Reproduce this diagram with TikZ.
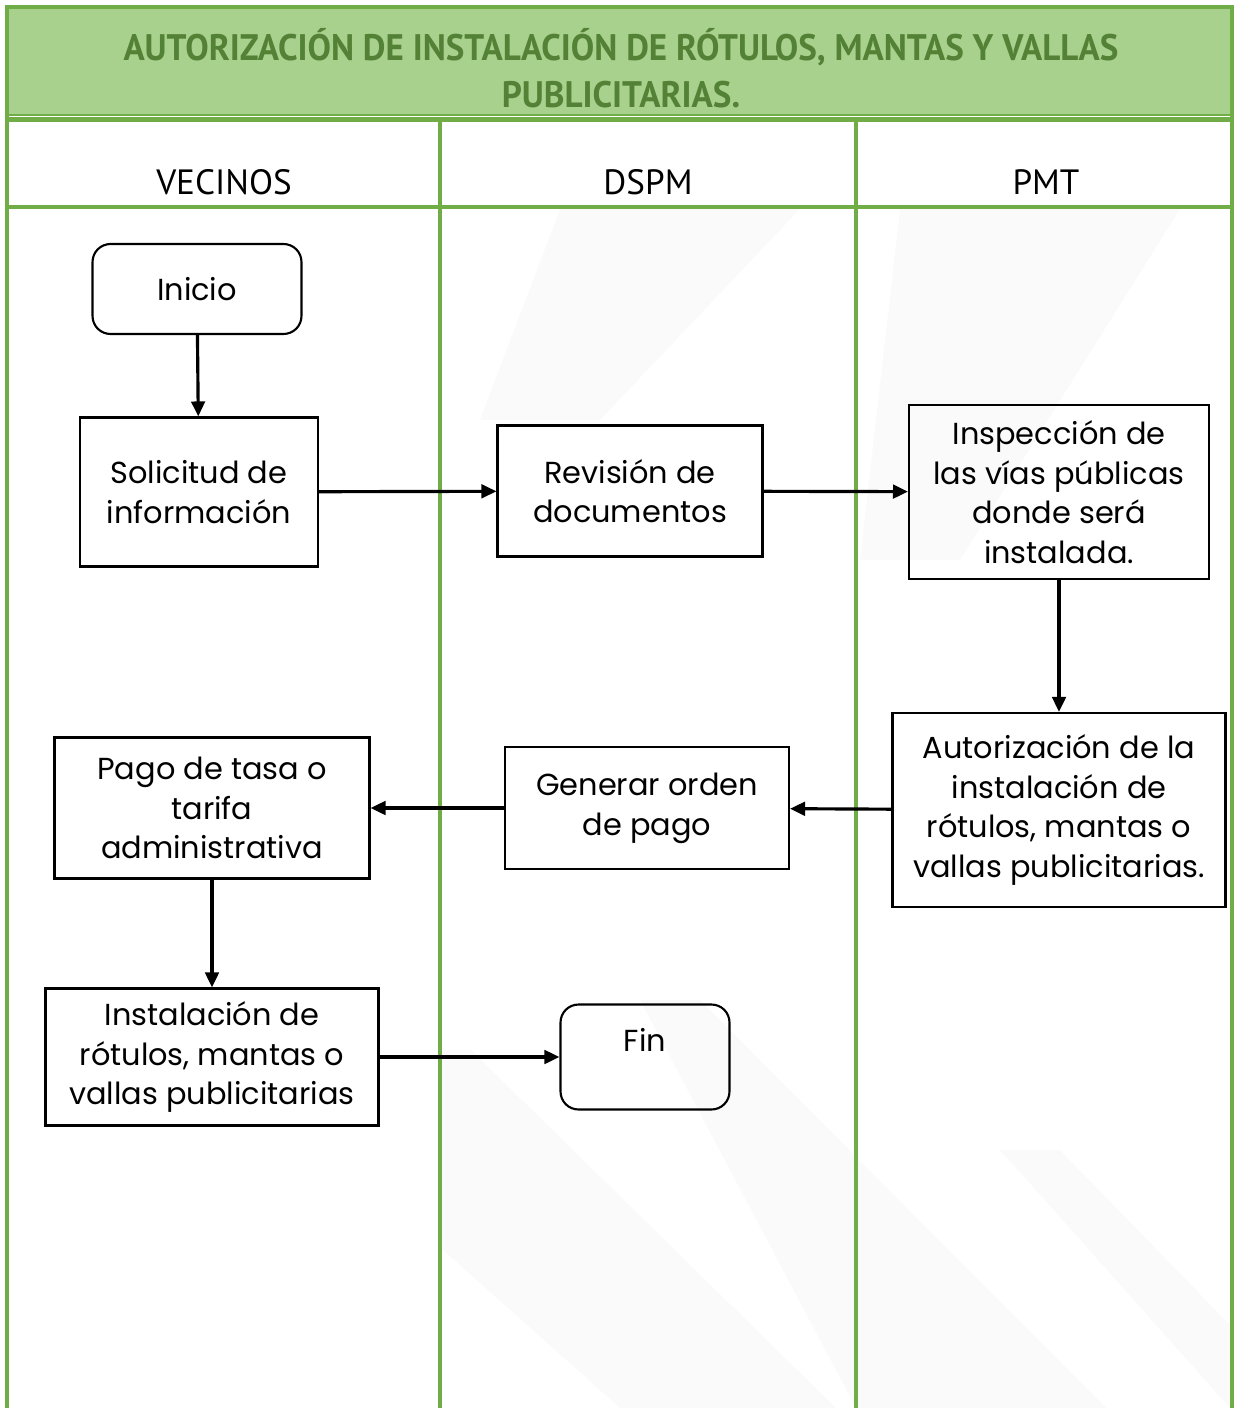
\documentclass[tikz,border=0pt]{standalone}
\usepackage{fontspec}
\setmainfont{Poppins}
\newfontfamily\titlefont[FakeStretch=0.95]{PT Sans}
\newfontfamily\lanefont{PT Sans}
\usetikzlibrary{arrows.meta}
\definecolor{lanegreen}{HTML}{70AD47}
\definecolor{headfill}{HTML}{A9D18E}
\definecolor{titleink}{HTML}{538135}
\definecolor{haze}{HTML}{FAFAFA}

\begin{document}
\begin{tikzpicture}[x=0.02cm,y=-0.02cm,
  lane/.style={lanegreen,line width=2.3pt},
  proc/.style={draw,line width=1.2pt,align=center,inner sep=0pt,
    font=\fontsize{17.3}{22.6}\selectfont},
  term/.style={proc,rounded corners=0.36cm},
  arr/.style={-{Triangle[length=0.3cm,width=0.27cm]},line width=1.8pt},
  lanehead/.style={font=\lanefont\fontsize{20}{24}\selectfont}
]
  \useasboundingbox (0,0) rectangle (1235,1408);

  % faint diagonal bands behind the lanes
  \begin{scope}
    \clip (442,209) rectangle (1230,1408);
    \fill[haze] (219,1050) -- (471,1050) -- (836,1408) -- (620,1408) -- cycle;
    \fill[haze] (640,1000) -- (700,1000) -- (1106,1408) -- (856,1408) -- cycle;
    \fill[haze] (1000,1150) -- (1060,1150) -- (1235,1330) -- (1235,1408) -- (1230,1408) -- cycle;
    \fill[haze] (560,209) -- (800,209) -- (600,420) -- (480,420) -- cycle;
    \fill[haze] (900,209) -- (1180,209) -- (960,560) -- (860,560) -- cycle;
  \end{scope}

  % header band and swimlanes
  \fill[headfill] (7,7) rectangle (1232,116);
  \draw[lane] (7,1408) -- (7,7) -- (1232,7) -- (1232,1408);
  \draw[lanegreen,line width=1.2pt] (7,115) -- (1232,115);
  \draw[lane] (7,119.5) -- (1232,119.5);
  \draw[lane] (7,207) -- (1232,207);
  \draw[lane] (440,119) -- (440,1408);
  \draw[lane] (856,119) -- (856,1408);

  \node[font=\titlefont\bfseries\fontsize{21}{26.5}\selectfont,text=titleink,align=center] (title) at (621,68)
    {AUTORIZACIÓN DE INSTALACIÓN DE RÓTULOS, MANTAS Y VALLAS\\PUBLICITARIAS.};
  \node[lanehead] (vecinos) at (224,182) {VECINOS};
  \node[lanehead] (dspm)    at (648,182) {DSPM};
  \node[lanehead] (pmt)     at (1046,182) {PMT};

  % steps
  \node[term,minimum width=4.18cm,minimum height=1.8cm] (inicio) at (197,289) {Inicio};
  \node[proc,minimum width=4.76cm,minimum height=2.98cm] (solicitud) at (199,492)
    {Solicitud de\\información};
  \node[proc,minimum width=5.3cm,minimum height=2.62cm] (revision) at (630,491)
    {Revisión de\\documentos};
  \node[proc,minimum width=6cm,minimum height=3.48cm] (inspeccion) at (1059,492)
    {Inspección de\\las vías públicas\\donde será\\instalada.};
  \node[proc,minimum width=6.66cm,minimum height=3.88cm] (autoriza) at (1059,810)
    {Autorización de la\\instalación de\\rótulos, mantas o\\vallas publicitarias.};
  \node[proc,minimum width=5.68cm,minimum height=2.44cm] (orden) at (647,808)
    {Generar orden\\de pago};
  \node[proc,minimum width=6.3cm,minimum height=2.82cm] (pago) at (212,808)
    {Pago de tasa o\\tarifa\\administrativa};
  \node[proc,minimum width=6.66cm,minimum height=2.74cm] (instala) at (212,1057)
    {Instalación de\\rótulos, mantas o\\vallas publicitarias};
  \node[term,minimum width=3.38cm,text height=0.94cm,text depth=1.16cm] (fin) at (645,1057) {Fin};

  % flow
  \draw[arr] (inicio) -- (solicitud);
  \draw[arr] (solicitud) -- (revision);
  \draw[arr] (revision) -- (inspeccion);
  \draw[arr] (inspeccion) -- (autoriza);
  \draw[arr] (autoriza) -- (orden);
  \draw[arr] (orden) -- (pago);
  \draw[arr] (pago) -- (instala);
  \draw[arr] (instala) -- (fin);
\end{tikzpicture}
\end{document}
